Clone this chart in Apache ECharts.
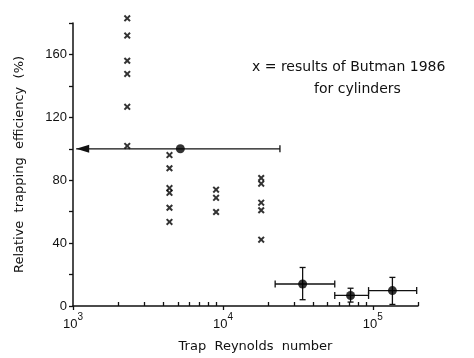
<!DOCTYPE html>
<html>
<head>
<meta charset="utf-8">
<script src="https://cdn.jsdelivr.net/npm/echarts@6/dist/echarts.min.js"></script>
<style>
    html, body { margin: 0; padding: 0; background: #fff; }
    #chart { width: 474px; height: 358px; }
</style>
</head>
<body>
<div id="chart"></div>
<script>
// Butman 1986 crosses, one column per Reynolds number
var butmanX = [2300, 4400, 9000, 18000]
var butmanY = [
    [183, 172, 156, 147.6, 126.7, 101.8],
    [96, 87.6, 75, 72, 62.5, 53.5],
    [74, 68.8, 59.8],
    [81.4, 77.8, 65.7, 60.9, 42.2]
]

// own results with error bars (first one is the arrow to the left)
var ptX = [5200, 34000, 71000, 135000]
var ptY = [100, 14, 6.7, 9.8]
var xLow = [1050, 22300, 55700, 93600]
var xHigh = [24000, 55700, 93600, 196000]
var yLow = [100, 4, 2.5, 1]
var yHigh = [100, 24.5, 11.3, 18.2]
var isArrow = [1, 0, 0, 0]

var xMajor = [1000, 10000, 100000]
var xMinor = [2000, 3000, 4000, 5000, 6000, 7000, 8000, 9000,
    20000, 30000, 40000, 50000, 60000, 70000, 80000, 90000, 200000]

var crosses = []
for (var i = 0; i < butmanX.length; i++) {
    for (var j = 0; j < butmanY[i].length; j++) {
        crosses.push([butmanX[i], butmanY[i][j]])
    }
}
var bars = []
var dots = []
for (var k = 0; k < ptX.length; k++) {
    bars.push([ptX[k], ptY[k], xLow[k], xHigh[k], yLow[k], yHigh[k], isArrow[k]])
    dots.push([ptX[k], ptY[k]])
}

var ink = '#111'
var font = 'DejaVu Sans'
var tickFont = 'Liberation Sans'

function renderBar (params, api) {
    var x = api.value(0), y = api.value(1)
    var xl = api.value(2), xh = api.value(3)
    var yl = api.value(4), yh = api.value(5)
    var arrow = api.value(6)
    var pl = api.coord([xl, y]), ph = api.coord([xh, y])
    var st = { stroke: ink, lineWidth: 1.3 }
    var kids = [
        { type: 'line', shape: { x1: pl[0], y1: pl[1], x2: ph[0], y2: ph[1] }, style: st },
        { type: 'line', shape: { x1: ph[0], y1: ph[1] - 3.5, x2: ph[0], y2: ph[1] + 3.5 }, style: st }
    ]
    if (arrow) {
        kids.push({ type: 'polygon', shape: { points: [[pl[0], pl[1]], [pl[0] + 13, pl[1] - 4], [pl[0] + 13, pl[1] + 4]] }, style: { fill: ink } })
    } else {
        kids.push({ type: 'line', shape: { x1: pl[0], y1: pl[1] - 3.5, x2: pl[0], y2: pl[1] + 3.5 }, style: st })
    }
    if (yl !== yh) {
        var pb = api.coord([x, yl]), pt = api.coord([x, yh])
        kids.push({ type: 'line', shape: { x1: pb[0], y1: pb[1], x2: pt[0], y2: pt[1] }, style: st })
        kids.push({ type: 'line', shape: { x1: pt[0] - 3, y1: pt[1], x2: pt[0] + 3, y2: pt[1] }, style: st })
        kids.push({ type: 'line', shape: { x1: pb[0] - 3, y1: pb[1], x2: pb[0] + 3, y2: pb[1] }, style: st })
    }
    return { type: 'group', children: kids }
}

var chart = echarts.init(document.getElementById('chart'))
var option = {
    animation: false,
    backgroundColor: '#fff',
    textStyle: { fontFamily: font, color: ink },
    grid: { left: 73, right: 56, top: 23, bottom: 50 },
    xAxis: [
        {
            type: 'log',
            logBase: 10,
            min: 1000,
            max: 200000,
            name: 'Trap  Reynolds  number',
            nameLocation: 'middle',
            nameGap: 34,
            nameTextStyle: { fontSize: 13, color: ink, fontFamily: font, padding: [0, 0, 0, 20] },
            axisLine: { lineStyle: { color: ink, width: 1.5 } },
            axisTick: { show: true, inside: true, length: 4, customValues: xMinor, lineStyle: { color: ink, width: 1.3 } },
            axisLabel: {
                customValues: xMajor,
                margin: 6,
                formatter: function (v) {
                    return '{b|10}{s|' + Math.round(Math.log10(v)) + '}'
                },
                rich: {
                    b: { fontSize: 13, color: ink, fontFamily: tickFont, padding: [6, 0, 0, 0] },
                    s: { fontSize: 10, color: ink, fontFamily: tickFont, verticalAlign: 'top', padding: [0, 0, 6, 0] }
                }
            },
            splitLine: { show: false }
        },
        {
            type: 'log',
            logBase: 10,
            min: 1000,
            max: 200000,
            position: 'bottom',
            axisLine: { show: false },
            axisTick: { show: true, length: 4, customValues: xMajor, lineStyle: { color: ink, width: 1.3 } },
            axisLabel: { show: false },
            splitLine: { show: false }
        }
    ],
    yAxis: {
        type: 'value',
        min: 0,
        max: 180,
        interval: 20,
        name: 'Relative  trapping  efficiency  (%)',
        nameLocation: 'middle',
        nameGap: 47,
        nameTextStyle: { fontSize: 13, color: ink, fontFamily: font },
        axisLine: { show: true, lineStyle: { color: ink, width: 1.5 } },
        axisTick: { show: true, length: 4, lineStyle: { color: ink, width: 1.3 } },
        axisLabel: {
            fontSize: 13,
            color: ink,
            fontFamily: tickFont,
            margin: 6,
            formatter: function (v) {
                return (v % 40 === 0 && v < 180) ? String(v) : ''
            }
        },
        splitLine: { show: false }
    },
    graphic: [
        { type: 'text', left: 252, top: 60, style: { text: 'x = results of Butman 1986', fontSize: 14, fontFamily: font, fill: ink } },
        { type: 'text', left: 314, top: 82, style: { text: 'for cylinders', fontSize: 14, fontFamily: font, fill: ink } }
    ],
    series: [
        {
            name: 'Butman 1986',
            type: 'scatter',
            clip: false,
            symbol: 'path://M0,2L2,0L5,3L8,0L10,2L7,5L10,8L8,10L5,7L2,10L0,8L3,5Z',
            symbolSize: 7,
            itemStyle: { color: '#000' },
            data: crosses
        },
        {
            name: 'bars',
            type: 'custom',
            renderItem: renderBar,
            encode: { x: 0, y: 1 },
            data: bars,
            z: 3
        },
        {
            name: 'present',
            type: 'scatter',
            symbol: 'circle',
            symbolSize: 9,
            itemStyle: { color: '#000' },
            data: dots,
            z: 4
        }
    ]
}
chart.setOption(option)
</script>
</body>
</html>
